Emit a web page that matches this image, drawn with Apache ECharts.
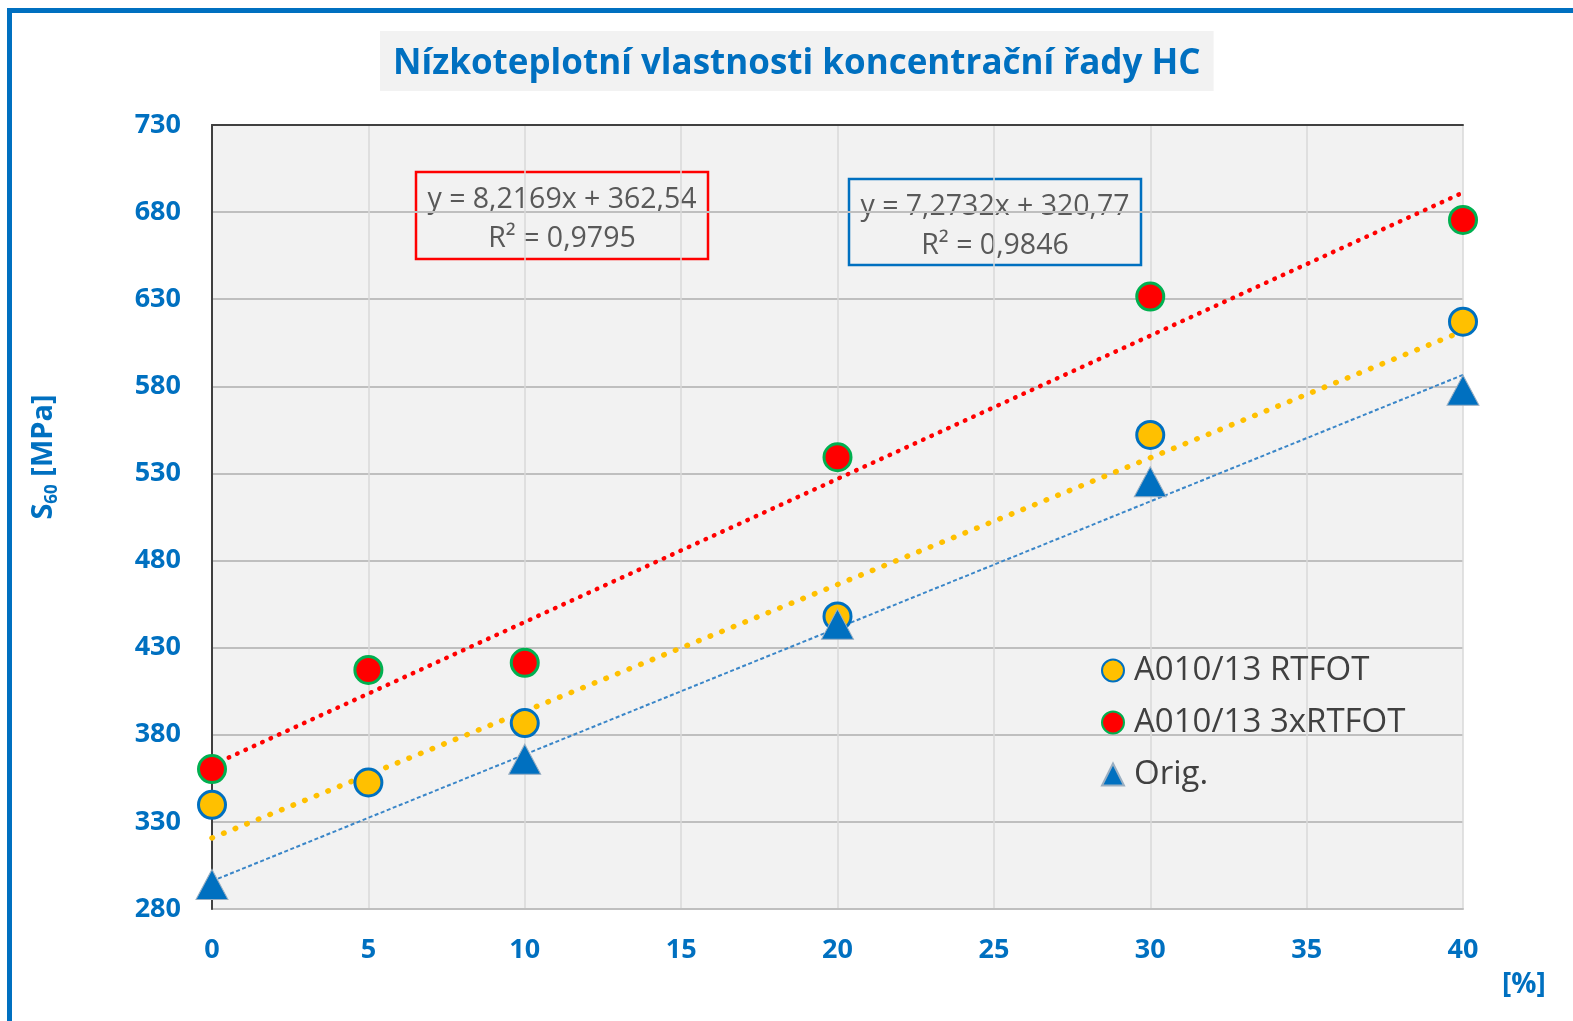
<!DOCTYPE html>
<html>
<head>
<meta charset="utf-8">
<script src="https://cdn.jsdelivr.net/npm/echarts@6/dist/echarts.min.js"></script>
<style>
  html, body { margin: 0; padding: 0; background: #ffffff; }
  #chart { width: 1573px; height: 1021px; }
</style>
</head>
<body>
<div id="chart"></div>
<script>
// concentration of HC [%]
const concentrations = [0, 5, 10, 20, 30, 40];
const origConcentrations = [0, 10, 20, 30, 40];

// S60 [MPa]
const rtfot = [339.8, 352.6, 386.7, 447.9, 552.1, 617.1];      // A010/13 RTFOT
const rtfot3x = [360.3, 417.2, 421.3, 539.3, 631.5, 675.5];    // A010/13 3xRTFOT
const orig = [294.1, 366.0, 443.5, 525.2, 577.7];              // Orig.

// trendline equations shown on the chart (slope, intercept)
const trendRtfot3x = [8.2169, 362.54];
const trendRtfot = [7.2732, 320.77];
const eqRtfot3x = 'y = 8,2169x + 362,54\nR² = 0,9795';
const eqRtfot = 'y = 7,2732x + 320,77\nR² = 0,9846';

const seriesNames = ['A010/13 RTFOT', 'A010/13 3xRTFOT', 'Orig.'];
const titleText = 'Nízkoteplotní vlastnosti koncentrační řady HC';

const BLUE = '#0070C0';
const FONT = 'Open Sans';

function pairs(xs, ys) {
  return xs.map((x, i) => [x, ys[i]]);
}

// least squares fit for the Orig. series (no equation shown for it)
function linFit(xs, ys) {
  const n = xs.length;
  const mx = xs.reduce((a, b) => a + b, 0) / n;
  const my = ys.reduce((a, b) => a + b, 0) / n;
  let sxy = 0, sxx = 0;
  xs.forEach((x, i) => { sxy += (x - mx) * (ys[i] - my); sxx += (x - mx) * (x - mx); });
  const k = sxy / sxx;
  return [k, my - k * mx];
}

function trendLine(coef) {
  const x0 = concentrations[0];
  const x1 = concentrations[concentrations.length - 1];
  return [[x0, coef[0] * x0 + coef[1]], [x1, coef[0] * x1 + coef[1]]];
}

const trendOrig = linFit(origConcentrations, orig);

const chart = echarts.init(document.getElementById('chart'));

const option = {
  backgroundColor: '#ffffff',
  animation: false,
  title: {
    text: titleText,
    left: 380,
    top: 31,
    padding: [14, 13, 8, 13],
    backgroundColor: '#F2F2F2',
    textStyle: {
      fontFamily: FONT,
      fontWeight: 'bold',
      fontSize: 35,
      lineHeight: 38,
      color: BLUE
    }
  },
  legend: {
    orient: 'vertical',
    left: 1101,
    top: 654,
    padding: 0,
    itemWidth: 22,
    itemHeight: 22,
    itemGap: 19,
    itemStyle: { borderWidth: 2 },
    textStyle: {
      fontFamily: FONT,
      fontSize: 33,
      lineHeight: 33,
      color: '#404040',
      padding: [0, 0, 0, 5]
    },
    data: [
      { name: seriesNames[0], icon: 'circle' },
      { name: seriesNames[1], icon: 'circle' },
      { name: seriesNames[2], icon: 'triangle' }
    ]
  },
  grid: {
    left: 212,
    right: 110,
    top: 125,
    bottom: 112,
    show: true,
    backgroundColor: '#F2F2F2',
    borderWidth: 0,
    outerBoundsMode: 'none'
  },
  xAxis: [
    {
      type: 'value',
      min: 0,
      max: 40,
      interval: 5,
      axisLine: { show: true, lineStyle: { color: '#BFBFBF', width: 2 } },
      axisTick: { show: false },
      splitLine: { show: true, lineStyle: { color: '#D9D9D9', width: 1.5 } },
      axisLabel: {
        margin: 28,
        fontFamily: FONT,
        fontWeight: 'bold',
        fontSize: 27,
        color: BLUE
      },
      name: '[%]',
      nameLocation: 'end',
      nameGap: 39,
      nameTextStyle: {
        fontFamily: FONT,
        fontWeight: 'bold',
        fontSize: 28,
        color: BLUE,
        align: 'left',
        verticalAlign: 'top',
        padding: [62, 0, 0, 0]
      }
    },
    {
      type: 'value',
      position: 'top',
      min: 0,
      max: 40,
      z: 1,
      axisLine: { show: true, lineStyle: { color: '#404040', width: 2 } },
      axisTick: { show: false },
      axisLabel: { show: false },
      splitLine: { show: false }
    }
  ],
  yAxis: [
    {
      type: 'value',
      min: 280,
      max: 730,
      interval: 50,
      axisLine: { show: true, lineStyle: { color: '#BFBFBF', width: 2 } },
      axisTick: { show: false },
      splitLine: { show: true, lineStyle: { color: '#BFBFBF', width: 2 } },
      axisLabel: {
        margin: 31,
        fontFamily: FONT,
        fontWeight: 'bold',
        fontSize: 27,
        color: BLUE
      },
      name: '{s|S}{sub|60}{s| [MPa]}',
      nameLocation: 'middle',
      nameRotate: 90,
      nameGap: 151,
      nameTextStyle: {
        color: BLUE,
        fontFamily: FONT,
        fontWeight: 'bold',
        padding: [0, 0, 0, 120],
        rich: {
          s: { fontFamily: FONT, fontWeight: 'bold', fontSize: 29, lineHeight: 34, color: BLUE },
          sub: { fontFamily: FONT, fontWeight: 'bold', fontSize: 17, lineHeight: 17, color: BLUE, verticalAlign: 'bottom' }
        }
      }
    },
    {
      type: 'value',
      position: 'right',
      min: 280,
      max: 730,
      z: 1,
      axisLine: { show: true, lineStyle: { color: '#404040', width: 2 } },
      axisTick: { show: false },
      axisLabel: { show: false },
      splitLine: { show: false }
    }
  ],
  series: [
    {
      name: 'trend 3xRTFOT',
      type: 'line',
      data: trendLine(trendRtfot3x),
      symbol: 'none',
      silent: true,
      z: 1.5,
      lineStyle: { color: '#FF0000', width: 4.5, type: [0.5, 8.7], cap: 'round' }
    },
    {
      name: 'trend RTFOT',
      type: 'line',
      data: trendLine(trendRtfot),
      symbol: 'none',
      silent: true,
      z: 1.5,
      lineStyle: { color: '#FFC000', width: 5.5, type: [0.5, 12], cap: 'round' }
    },
    {
      name: 'trend Orig',
      type: 'line',
      data: trendLine(trendOrig),
      symbol: 'none',
      silent: true,
      z: 1.5,
      lineStyle: { color: '#3A86C8', width: 2, type: [4, 2.5] }
    },
    {
      name: seriesNames[0],
      type: 'scatter',
      data: pairs(concentrations, rtfot),
      symbol: 'circle',
      symbolSize: 27,
      clip: false,
      itemStyle: { color: '#FFC000', borderColor: BLUE, borderWidth: 3, opacity: 1 }
    },
    {
      name: seriesNames[1],
      type: 'scatter',
      data: pairs(concentrations, rtfot3x),
      symbol: 'circle',
      symbolSize: 27,
      clip: false,
      itemStyle: { color: '#FF0000', borderColor: '#00B050', borderWidth: 3, opacity: 1 }
    },
    {
      name: seriesNames[2],
      type: 'scatter',
      data: pairs(origConcentrations, orig),
      symbol: 'triangle',
      symbolSize: [32, 30],
      clip: false,
      itemStyle: { color: BLUE, borderColor: '#9AAFC2', borderWidth: 1, opacity: 1 }
    }
  ],
  graphic: [
    // chart frame (top and left edges)
    { type: 'rect', shape: { x: 7, y: 8, width: 1566, height: 5 }, style: { fill: BLUE }, z: 10 },
    { type: 'rect', shape: { x: 7, y: 8, width: 5, height: 1013 }, style: { fill: BLUE }, z: 10 },
    // trendline labels
    {
      type: 'group',
      x: 416,
      y: 172,
      z: 10,
      children: [
        { type: 'rect', shape: { x: 0, y: 0, width: 292, height: 87 }, style: { fill: '#F2F2F2', stroke: '#FF0000', lineWidth: 2.5 } },
        { type: 'text', x: 146, y: 47, style: { text: eqRtfot3x, fill: '#595959', font: '28.5px "Open Sans"', lineHeight: 39, align: 'center', verticalAlign: 'middle' } }
      ]
    },
    {
      type: 'group',
      x: 849,
      y: 179,
      z: 10,
      children: [
        { type: 'rect', shape: { x: 0, y: 0, width: 292, height: 86 }, style: { fill: 'transparent', stroke: BLUE, lineWidth: 2.5 } },
        { type: 'text', x: 146, y: 47, style: { text: eqRtfot, fill: '#595959', font: '28.5px "Open Sans"', lineHeight: 39, align: 'center', verticalAlign: 'middle' } }
      ]
    }
  ]
};

chart.setOption(option);
</script>
</body>
</html>
